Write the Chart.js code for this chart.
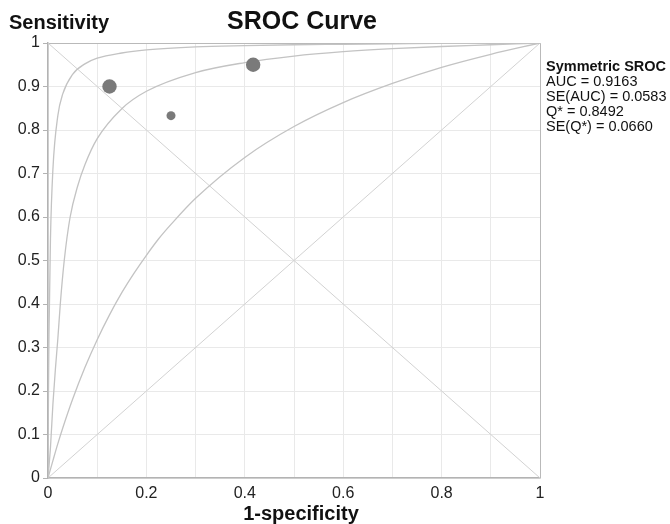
<!DOCTYPE html>
<html>
<head>
<meta charset="utf-8">
<script src="https://cdn.jsdelivr.net/npm/chart.js@4"></script>
<style>
  html, body { margin: 0; padding: 0; background: #fff; }
  #wrap { width: 670px; height: 524px; }
</style>
</head>
<body>
<div id="wrap"><canvas id="sroc" width="670" height="524"></canvas></div>
<script>
// Studies (1-specificity, sensitivity, weight)
const studyFpr = [0.125, 0.25, 0.417];
const studySens = [0.9, 0.833, 0.95];
const studyWeight = [64, 25, 64];

// SROC curve (middle)
const srocFpr = [0, 0.005, 0.01, 0.015, 0.02, 0.025, 0.033, 0.045, 0.06, 0.075, 0.1, 0.15, 0.2, 0.3, 0.4, 0.5, 0.6, 0.7, 0.8, 0.9, 1];
const srocSens = [0, 0.07, 0.17, 0.25, 0.32, 0.4, 0.5, 0.6, 0.67, 0.72, 0.78, 0.849, 0.889, 0.932, 0.955, 0.97, 0.98, 0.987, 0.992, 0.996, 1];

// upper band curve
const upperFpr = [0, 0.0005, 0.001, 0.002, 0.005, 0.01, 0.02, 0.03, 0.05, 0.075, 0.1, 0.15, 0.2, 0.3, 0.4, 0.5, 0.6, 0.7, 0.8, 0.9, 1];
const upperSens = [0, 0.11, 0.2, 0.33, 0.55, 0.71, 0.833, 0.883, 0.928, 0.952, 0.965, 0.977, 0.984, 0.991, 0.994, 0.996, 0.997, 0.998, 0.999, 0.9995, 1];

// lower band curve
const lowerFpr = [0, 0.01, 0.02, 0.03, 0.05, 0.075, 0.1, 0.125, 0.15, 0.175, 0.2, 0.225, 0.25, 0.3, 0.4, 0.5, 0.6, 0.7, 0.8, 0.9, 1];
const lowerSens = [0, 0.04, 0.079, 0.115, 0.181, 0.254, 0.318, 0.375, 0.426, 0.471, 0.512, 0.55, 0.583, 0.643, 0.737, 0.808, 0.863, 0.907, 0.944, 0.974, 1];

// reference lines
const diagFpr = [0, 1];
const diagSens = [0, 1];
const antiFpr = [0, 1];
const antiSens = [1, 0];

const xTickStep = 0.1;
const yTickStep = 0.1;

const chartTitle = 'SROC Curve';
const yTitle = 'Sensitivity';
const xTitle = '1-specificity';
const statsLines = ['Symmetric SROC', 'AUC = 0.9163', 'SE(AUC) = 0.0583', 'Q* = 0.8492', 'SE(Q*) = 0.0660'];

const FONT = "'Liberation Sans', Arial, sans-serif";

function pts(xs, ys) {
  return xs.map((x, i) => ({ x: x, y: ys[i] }));
}

const curveStyle = {
  type: 'line',
  borderColor: '#c3c3c3',
  borderWidth: 1.3,
  pointRadius: 0,
  fill: false,
  cubicInterpolationMode: 'monotone'
};

// Draw text and frame ourselves
const decor = {
  id: 'decor',
  beforeDatasetsDraw(chart) {
    const { ctx, chartArea: a } = chart;
    ctx.save();
    ctx.strokeStyle = '#b9b9b9';
    ctx.lineWidth = 1;
    ctx.beginPath();
    ctx.moveTo(a.left, a.top + 0.5);
    ctx.lineTo(a.right + 0.5, a.top + 0.5);
    ctx.lineTo(a.right + 0.5, a.bottom);
    ctx.stroke();
    ctx.restore();
  },
  afterDraw(chart) {
    const { ctx } = chart;
    ctx.save();
    ctx.fillStyle = '#111';
    ctx.textBaseline = 'alphabetic';

    ctx.font = 'bold 25px ' + FONT;
    ctx.textAlign = 'center';
    ctx.fillText(chartTitle, 302, 29);

    ctx.font = 'bold 20px ' + FONT;
    ctx.textAlign = 'left';
    ctx.fillText(yTitle, 9, 29);

    ctx.textAlign = 'center';
    ctx.fillText(xTitle, 301, 520);

    ctx.textAlign = 'left';
    statsLines.forEach((s, i) => {
      ctx.font = (i === 0 ? 'bold ' : '') + '14.5px ' + FONT;
      ctx.fillText(s, 546, 71 + i * 15);
    });
    ctx.restore();
  }
};

new Chart(document.getElementById('sroc').getContext('2d'), {
  type: 'scatter',
  data: {
    datasets: [
      {
        label: 'Studies',
        data: pts(studyFpr, studySens),
        backgroundColor: '#7a7a7a',
        borderWidth: 0,
        pointRadius: studyWeight.map(w => Math.sqrt(w) * 0.9)
      },
      Object.assign({ label: 'SROC', data: pts(srocFpr, srocSens) }, curveStyle),
      Object.assign({ label: 'Upper', data: pts(upperFpr, upperSens) }, curveStyle),
      Object.assign({ label: 'Lower', data: pts(lowerFpr, lowerSens) }, curveStyle),
      {
        type: 'line', label: 'Diagonal', data: pts(diagFpr, diagSens),
        borderColor: '#d2d2d2', borderWidth: 1, pointRadius: 0, fill: false
      },
      {
        type: 'line', label: 'Anti-diagonal', data: pts(antiFpr, antiSens),
        borderColor: '#d2d2d2', borderWidth: 1, pointRadius: 0, fill: false
      }
    ]
  },
  options: {
    responsive: false,
    animation: false,
    layout: { padding: { left: 0, top: 43, right: 130, bottom: 0 } },
    plugins: {
      legend: { display: false },
      tooltip: { enabled: false },
      title: { display: false }
    },
    scales: {
      x: {
        type: 'linear',
        min: 0, max: 1,
        afterFit: (s) => { s.height = 46; },
        grid: { color: '#e9e9e9', drawTicks: false },
        border: { color: '#b3b3b3', width: 1.5 },
        ticks: {
          stepSize: xTickStep,
          padding: 6,
          color: '#222',
          font: { family: FONT, size: 16 },
          maxRotation: 0,
          autoSkip: false,
          callback: (v) => Math.round(v * 10) % 2 === 0 ? String(Math.round(v * 10) / 10) : ''
        }
      },
      y: {
        type: 'linear',
        min: 0, max: 1,
        afterFit: (s) => { s.width = 48; },
        grid: { color: '#e9e9e9', tickLength: 5, tickColor: '#b3b3b3' },
        border: { color: '#b3b3b3', width: 1.5 },
        ticks: {
          stepSize: yTickStep,
          padding: 3,
          color: '#222',
          font: { family: FONT, size: 16 },
          autoSkip: false,
          callback: (v) => String(Math.round(v * 10) / 10)
        }
      }
    }
  },
  plugins: [decor]
});
</script>
</body>
</html>
